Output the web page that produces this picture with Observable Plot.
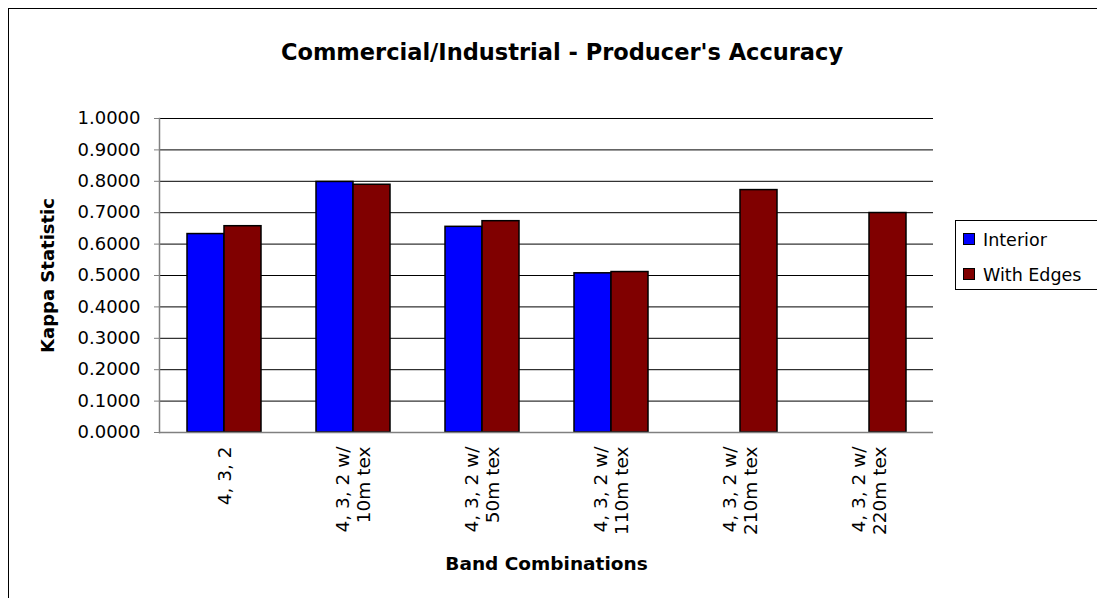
<!DOCTYPE html>
<html>
<head>
<meta charset="utf-8">
<script src="https://cdn.jsdelivr.net/npm/d3@7"></script>
<script src="https://cdn.jsdelivr.net/npm/@observablehq/plot@0.6"></script>
<style>
  html, body { margin: 0; padding: 0; background: #fff; overflow: hidden; }
  #wrap { position: relative; width: 1097px; height: 598px; overflow: hidden; font-family: "DejaVu Sans", sans-serif; }
  #border { position: absolute; left: 8px; top: 8px; width: 1200px; height: 700px; border: 1px solid #000; box-sizing: border-box; }
  #chart { position: absolute; left: 0; top: 0; }
  #title { position: absolute; left: 162px; width: 800px; top: 39px; text-align: center; font-weight: bold; font-size: 22.5px; color: #000; white-space: nowrap; }
  #legend { position: absolute; left: 955px; top: 220px; width: 200px; height: 70px; border: 1px solid #000; box-sizing: border-box; background: #fff; }
  .item { position: absolute; left: 7px; height: 20px; font-size: 17.5px; line-height: 20px; white-space: nowrap; }
  .sw { position: absolute; left: 0; top: 3px; width: 12px; height: 12px; border: 1.5px solid #000; box-sizing: border-box; }
  .lab { position: absolute; left: 20px; top: 0; }
</style>
</head>
<body>
<div id="wrap">
  <div id="border"></div>
  <div id="chart"></div>
  <div id="title"></div>
  <div id="legend"></div>
</div>
<script>
const titleText = "Commercial/Industrial - Producer's Accuracy";
const xLabel = "Band Combinations";
const yLabel = "Kappa Statistic";
const categories = ["4, 3, 2", "4, 3, 2 w/\n10m tex", "4, 3, 2 w/\n50m tex", "4, 3, 2 w/\n110m tex", "4, 3, 2 w/\n210m tex", "4, 3, 2 w/\n220m tex"];
const series = ["Interior", "With Edges"];
const colors = ["#0000FF", "#800000"];
const interior = [0.632, 0.798, 0.655, 0.507, null, null];
const withEdges = [0.657, 0.789, 0.673, 0.511, 0.772, 0.699];
const yTicks = [0, 0.1, 0.2, 0.3, 0.4, 0.5, 0.6, 0.7, 0.8, 0.9, 1.0];

const rows = [];
categories.forEach((c, i) => {
  if (interior[i] != null) rows.push({cat: c, series: series[0], value: interior[i]});
  if (withEdges[i] != null) rows.push({cat: c, series: series[1], value: withEdges[i]});
});

document.getElementById("title").textContent = titleText;

const legend = document.getElementById("legend");
series.forEach((s, i) => {
  const it = document.createElement("div");
  it.className = "item";
  it.style.top = (i === 0 ? 9 : 44) + "px";
  const sw = document.createElement("div");
  sw.className = "sw";
  sw.style.background = colors[i];
  const lb = document.createElement("div");
  lb.className = "lab";
  lb.textContent = s;
  it.appendChild(sw); it.appendChild(lb);
  legend.appendChild(it);
});

const chart = Plot.plot({
  width: 1097,
  height: 598,
  marginLeft: 156,
  marginRight: 162,
  marginTop: 118,
  marginBottom: 166,
  style: {fontFamily: "DejaVu Sans, sans-serif", fontSize: "17px", background: "transparent", color: "#000"},
  fx: {domain: categories, padding: 0, label: null, axis: null},
  x: {domain: series, paddingInner: 0, paddingOuter: 0.733, axis: null},
  y: {domain: [0, 1], axis: null},
  color: {domain: series, range: colors},
  marks: [
    Plot.ruleY(yTicks.filter(d => d > 0), {stroke: "#000", strokeWidth: 1}),
    Plot.barY(rows, {fx: "cat", x: "series", y: "value", fill: "series", stroke: "#000", strokeWidth: 1.5}),
    Plot.ruleY([0], {stroke: "#808080", strokeWidth: 1.5}),
    Plot.frame({anchor: "left", facetAnchor: "left", stroke: "#808080", strokeWidth: 1.5}),
    Plot.axisY(yTicks, {anchor: "left", tickFormat: d => d.toFixed(4), tickSize: 5, tickPadding: 14, stroke: "#808080", fill: "#000", label: null, fontSize: 18}),
    Plot.axisFx({anchor: "bottom", tickRotate: -90, tickSize: 0, tickPadding: 14, label: null, fontSize: 18.5, lineHeight: 1.15}),
    Plot.text([xLabel], {facet: "super", frameAnchor: "bottom", dy: 137, fontWeight: "bold", fontSize: 18.5, text: d => d}),
    Plot.text([yLabel], {facet: "super", frameAnchor: "left", textAnchor: "middle", dx: -111, rotate: -90, fontWeight: "bold", fontSize: 18, text: d => d})
  ]
});
document.getElementById("chart").appendChild(chart);
</script>
</body>
</html>
